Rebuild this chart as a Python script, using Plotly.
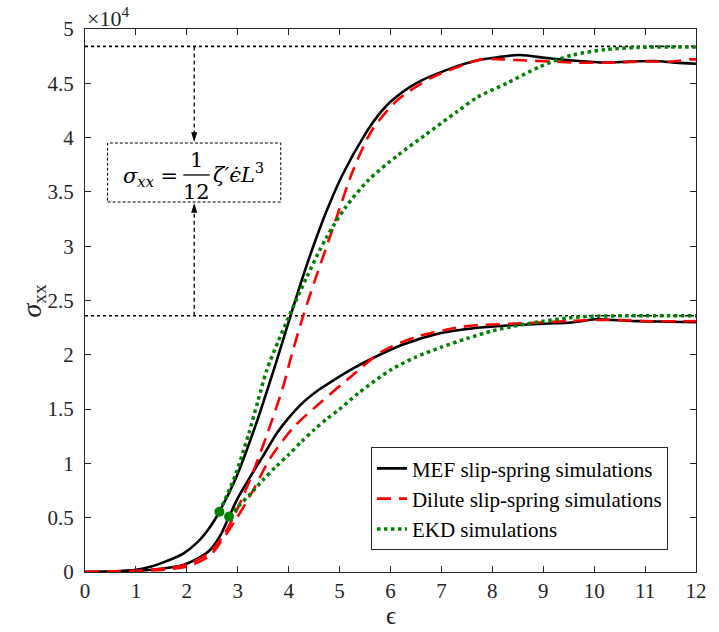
import plotly.graph_objects as go

# ---- data (stress in units of 1e4) ----
mef_hi_x = [0, 0.5, 1, 1.3, 1.6, 1.93, 2.2, 2.45, 2.64, 2.96, 3.35, 3.74, 4.03, 4.28, 4.5, 4.75, 5.06, 5.5,
            5.75, 6.0, 6.5, 7.2, 7.69, 8.1, 8.54, 9.11, 9.57, 10.21, 10.7, 11.18, 11.6, 12]
mef_hi_y = [0, 0.005, 0.02, 0.05, 0.1, 0.17, 0.27, 0.41, 0.555, 0.86, 1.35, 1.91, 2.35, 2.72, 3.02, 3.33, 3.66, 4.03,
            4.2, 4.33, 4.5, 4.64, 4.71, 4.74, 4.76, 4.73, 4.71, 4.69, 4.70, 4.705, 4.69, 4.68]

dil_hi_x = [0, 0.5, 1, 1.5, 2.0, 2.45, 2.75, 3.03, 3.3, 3.6, 3.9, 4.03, 4.28, 4.54, 4.77, 4.93, 5.25, 5.64,
            6.15, 6.8, 7.44, 7.79, 8.2, 8.66, 9.18, 9.7, 10.21, 10.98, 11.5, 11.88, 12]
dil_hi_y = [0, 0.003, 0.01, 0.03, 0.07, 0.18, 0.36, 0.62, 0.92, 1.3, 1.72, 1.95, 2.35, 2.72, 3.03, 3.25, 3.68, 4.07,
            4.35, 4.55, 4.67, 4.72, 4.72, 4.71, 4.70, 4.69, 4.69, 4.70, 4.70, 4.72, 4.72]

ekd_hi_x = [2.64, 2.8, 2.96, 3.1, 3.22, 3.4, 3.57, 3.8, 4.03, 4.35, 4.73, 5.12, 5.57, 6.15, 6.67, 7.31, 7.7,
            8.28, 8.92, 9.57, 10.21, 10.85, 11.5, 12]
ekd_hi_y = [0.555, 0.72, 0.90, 1.1, 1.28, 1.58, 1.86, 2.13, 2.38, 2.71, 3.07, 3.36, 3.61, 3.84, 4.02, 4.24, 4.37,
            4.50, 4.65, 4.76, 4.81, 4.83, 4.835, 4.835]

mef_lo_x = [0, 0.5, 1, 1.5, 1.93, 2.2, 2.45, 2.65, 2.83, 3.0, 3.25, 3.5, 3.77, 4.0, 4.28, 4.6, 4.93, 5.25, 5.57,
            6.22, 6.99, 7.63, 8.3, 9.24, 9.6, 10.02, 10.4, 10.86, 11.5, 12]
mef_lo_y = [0, 0.003, 0.01, 0.03, 0.065, 0.12, 0.20, 0.33, 0.51, 0.68, 0.88, 1.07, 1.28, 1.42, 1.56, 1.68, 1.78,
            1.87, 1.95, 2.09, 2.20, 2.245, 2.27, 2.29, 2.30, 2.327, 2.32, 2.31, 2.305, 2.30]

dil_lo_x = [0, 0.5, 1, 1.5, 2.0, 2.45, 2.7, 2.96, 3.3, 3.64, 4.09, 4.6, 5.25, 5.83, 6.54, 7.31, 7.63, 8.6,
            9.5, 10.0, 10.5, 11, 12]
dil_lo_y = [0, 0.003, 0.01, 0.02, 0.05, 0.15, 0.30, 0.48, 0.75, 1.05, 1.33, 1.55, 1.81, 2.03, 2.17, 2.25, 2.27, 2.29,
            2.31, 2.32, 2.32, 2.31, 2.31]

ekd_lo_x = [2.83, 3.0, 3.25, 3.5, 3.75, 4.0, 4.25, 4.5, 4.75, 5.0, 5.38, 6.0, 6.5, 7.0, 7.5, 8.0, 8.5, 9.0,
            9.5, 10.0, 11.0, 12.0]
ekd_lo_y = [0.51, 0.6, 0.72, 0.85, 0.97, 1.08, 1.2, 1.31, 1.41, 1.5, 1.65, 1.86, 1.98, 2.07, 2.15, 2.22, 2.27, 2.31,
            2.34, 2.355, 2.36, 2.36]

dots_x = [2.64, 2.83]
dots_y = [0.555, 0.51]

ref_hi = 4.84
ref_lo = 2.36

x_ticks = list(range(0, 13))
y_ticks = [0, 0.5, 1, 1.5, 2, 2.5, 3, 3.5, 4, 4.5, 5]
y_tick_text = ["0", "0.5", "1", "1.5", "2", "2.5", "3", "3.5", "4", "4.5", "5"]

FONT = "Liberation Serif"
AX = "#262626"
SM = 0.8

fig = go.Figure()

# reference dotted lines
for yv in (ref_hi, ref_lo):
    fig.add_trace(go.Scatter(x=[0, 12], y=[yv, yv], mode="lines", showlegend=False,
                             line=dict(color="black", width=1.6, dash="dot"), hoverinfo="skip"))

fig.add_trace(go.Scatter(x=mef_hi_x, y=mef_hi_y, mode="lines", name="MEF slip-spring simulations",
                         line=dict(color="black", width=2.6, shape="spline", smoothing=SM)))
fig.add_trace(go.Scatter(x=mef_lo_x, y=mef_lo_y, mode="lines", showlegend=False,
                         line=dict(color="black", width=2.6, shape="spline", smoothing=SM)))
fig.add_trace(go.Scatter(x=dil_hi_x, y=dil_hi_y, mode="lines", name="Dilute slip-spring simulations",
                         line=dict(color="#ff0000", width=2.6, dash="14px,8px", shape="spline", smoothing=SM)))
fig.add_trace(go.Scatter(x=dil_lo_x, y=dil_lo_y, mode="lines", showlegend=False,
                         line=dict(color="#ff0000", width=2.6, dash="14px,8px", shape="spline", smoothing=SM)))
fig.add_trace(go.Scatter(x=ekd_hi_x, y=ekd_hi_y, mode="lines", name="EKD simulations",
                         line=dict(color="#008000", width=3.5, dash="dot", shape="spline", smoothing=SM)))
fig.add_trace(go.Scatter(x=ekd_lo_x, y=ekd_lo_y, mode="lines", showlegend=False,
                         line=dict(color="#008000", width=3.5, dash="dot", shape="spline", smoothing=SM)))
fig.add_trace(go.Scatter(x=dots_x, y=dots_y, mode="markers", showlegend=False,
                         marker=dict(color="#008000", size=10)))

# equation box
bx0, bx1, by0, by1 = 0.444, 3.845, 3.407, 3.95
ax_x = 2.145
shapes = [
    dict(type="rect", x0=bx0, x1=bx1, y0=by0, y1=by1, line=dict(color="black", width=1, dash="3px,2px"),
         layer="above"),
    dict(type="line", x0=ax_x, x1=ax_x, y0=ref_hi, y1=by1 + 0.05, line=dict(color="black", width=1.3, dash="4px,3px")),
    dict(type="line", x0=ax_x, x1=ax_x, y0=ref_lo, y1=by0 - 0.05, line=dict(color="black", width=1.3, dash="4px,3px")),
    dict(type="path", path=f"M {ax_x-0.06},{by1+0.1} L {ax_x+0.06},{by1+0.1} L {ax_x},{by1+0.01} Z",
         fillcolor="black", line=dict(color="black", width=0)),
    dict(type="path", path=f"M {ax_x-0.06},{by0-0.1} L {ax_x+0.06},{by0-0.1} L {ax_x},{by0-0.01} Z",
         fillcolor="black", line=dict(color="black", width=0)),
    dict(type="line", x0=1.93, x1=2.45, y0=3.656, y1=3.656, line=dict(color="black", width=1.3)),
]

eq_font = dict(family="DejaVu Serif", size=21, color="black")
annotations = [
    dict(x=1.28, y=3.64, xref="x", yref="y", text="<i>σ<sub>xx</sub></i> =", showarrow=False,
         font=eq_font, xanchor="center", yanchor="middle"),
    dict(x=2.19, y=3.79, xref="x", yref="y", text="1", showarrow=False, font=eq_font,
         xanchor="center", yanchor="middle"),
    dict(x=2.19, y=3.50, xref="x", yref="y", text="12", showarrow=False, font=eq_font,
         xanchor="center", yanchor="middle"),
    dict(x=2.47, y=3.67, xref="x", yref="y", text="<i>ζ′ϵ̇L</i><sup>3</sup>", showarrow=False, font=eq_font,
         xanchor="left", yanchor="middle"),
    dict(x=0.0, y=1.0, xref="paper", yref="paper", text="×10<sup>4</sup>", showarrow=False,
         font=dict(family=FONT, size=22, color=AX), xanchor="left", yanchor="bottom", yshift=-4),
    dict(x=-0.085, y=0.5, xref="paper", yref="paper", text="<i>σ</i><sub>xx</sub>", showarrow=False,
         font=dict(family=FONT, size=28, color=AX), textangle=-90, xanchor="center", yanchor="middle"),
    dict(x=0.5, y=-0.0792, xref="paper", yref="paper", text="ϵ", showarrow=False,
         font=dict(family=FONT, size=25, color=AX), xanchor="center", yanchor="middle"),
]

fig.update_layout(
    width=719, height=632,
    margin=dict(l=85, r=13, t=29, b=60),
    paper_bgcolor="white", plot_bgcolor="white",
    font=dict(family=FONT, size=20, color=AX),
    shapes=shapes, annotations=annotations,
    legend=dict(x=0.468, y=0.135, xanchor="left", yanchor="middle", bgcolor="white",
                bordercolor="#262626", borderwidth=1, font=dict(family=FONT, size=21, color="black"),
                itemwidth=30, tracegroupgap=0),
    showlegend=True,
)
fig.update_xaxes(range=[0, 12], tickvals=x_ticks, ticks="inside", ticklen=6, tickcolor=AX,
                 showline=True, linecolor=AX, linewidth=1, mirror="ticks", showgrid=False, zeroline=False,
                 tickfont=dict(family=FONT, size=21, color=AX))
fig.update_yaxes(range=[0, 5], tickvals=y_ticks, ticktext=y_tick_text, ticks="inside", ticklen=6, tickcolor=AX,
                 showline=True, linecolor=AX, linewidth=1, mirror="ticks", showgrid=False, zeroline=False,
                 ticklabelstandoff=6, tickfont=dict(family=FONT, size=21, color=AX))

fig.write_html("out.html")
